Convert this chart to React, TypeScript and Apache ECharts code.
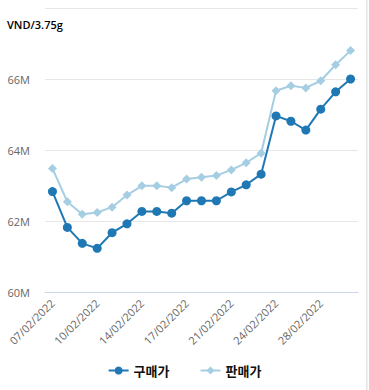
import React, { useEffect, useRef } from "react";
import * as echarts from "echarts";

const dates = [
  "07/02/2022", "08/02/2022", "09/02/2022", "10/02/2022", "11/02/2022", "12/02/2022",
  "14/02/2022", "15/02/2022", "16/02/2022", "17/02/2022", "18/02/2022", "19/02/2022",
  "21/02/2022", "22/02/2022", "23/02/2022", "24/02/2022", "25/02/2022", "26/02/2022",
  "28/02/2022", "01/03/2022", "02/03/2022",
];

const buyPrice = [
  62.83, 61.82, 61.37, 61.23, 61.67, 61.92, 62.27, 62.27, 62.22, 62.57, 62.57,
  62.57, 62.82, 63.02, 63.32, 64.96, 64.81, 64.56, 65.15, 65.64, 66.0,
];

const sellPrice = [
  63.48, 62.54, 62.19, 62.24, 62.39, 62.73, 62.99, 62.99, 62.94, 63.18, 63.23,
  63.28, 63.44, 63.64, 63.91, 65.67, 65.81, 65.75, 65.95, 66.4, 66.8,
];

const seriesNames = ["구매가", "판매가"];
const unitLabel = "VND/3.75g";

export default function App() {
  const ref = useRef<HTMLDivElement>(null);
  useEffect(() => {
    if (!ref.current) return;
    const chart = echarts.init(ref.current, undefined, { renderer: "svg" });
    const font = "'Open Sans', 'Noto Sans CJK KR', sans-serif";
    chart.setOption({
      animation: false,
      textStyle: { fontFamily: font },
      graphic: [
        {
          type: "text",
          left: 7,
          top: 19,
          style: { text: unitLabel, fontSize: 11, fontWeight: 600, fill: "#000", fontFamily: font },
        },
        {
          type: "rect",
          shape: { x: 366, y: 0, width: 1.5, height: 390 },
          style: { fill: "#e4e4e4" },
        },
      ],
      legend: {
        bottom: 8,
        left: "center",
        itemGap: 30,
        itemWidth: 20,
        itemHeight: 10,
        textStyle: { fontSize: 13, fontWeight: "bold", color: "#111", fontFamily: font },
        data: seriesNames,
      },
      grid: { left: 45, right: 11, top: 8, bottom: 98, containLabel: false },
      xAxis: {
        type: "category",
        data: dates,
        boundaryGap: true,
        axisLine: { show: true, lineStyle: { color: "#ccd6eb" } },
        axisTick: { show: false },
        axisLabel: {
          interval: 2,
          rotate: 45,
          fontSize: 11,
          color: "#666",
          margin: 9,
        },
      },
      yAxis: {
        type: "value",
        min: 60,
        max: 68,
        interval: 2,
        axisLine: { show: false },
        axisTick: { show: false },
        splitLine: { lineStyle: { color: "#e6e6e6" } },
        axisLabel: {
          showMaxLabel: false,
          fontSize: 11,
          color: "#666",
          margin: 15,
          formatter: (v: number) => `${v}M`,
        },
      },
      series: [
        {
          name: seriesNames[0],
          type: "line",
          data: buyPrice,
          symbol: "circle",
          symbolSize: 9,
          itemStyle: { color: "#1f78b4" },
          lineStyle: { width: 2, color: "#1f78b4" },
        },
        {
          name: seriesNames[1],
          type: "line",
          data: sellPrice,
          symbol: "diamond",
          symbolSize: 9,
          itemStyle: { color: "#a6cee3" },
          lineStyle: { width: 2, color: "#a6cee3" },
        },
      ],
    });
    return () => chart.dispose();
  }, []);
  return (
    <div
      ref={ref}
      style={{ position: "fixed", left: 0, top: 0, width: 369, height: 390, background: "#fff" }}
    />
  );
}
